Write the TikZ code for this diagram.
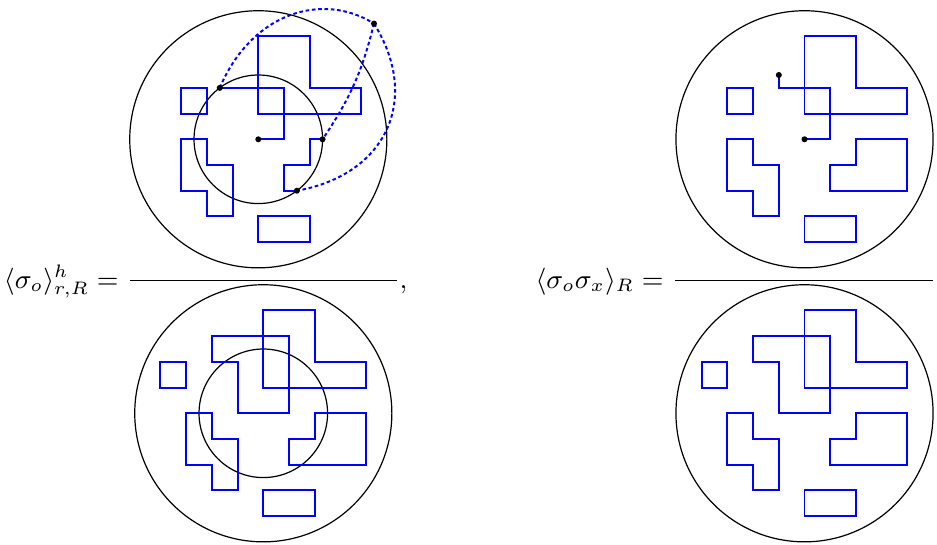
\documentclass[tikz,border=0pt]{standalone}
\begin{document}
\begin{tikzpicture}[x=0.332pt,y=-0.332pt,
  conf/.style={blue, line width=0.65pt, line join=miter},
  ring/.style={black, line width=0.4pt},
  site/.style={circle, fill=black, inner sep=0pt, minimum size=2pt},
  bridge/.style={blue, line width=0.65pt, dash pattern=on 1.2pt off 0.9pt},
  fracbar/.style={black, line width=0.4pt},
  lbl/.style={inner sep=0pt, outer sep=0pt, font=\fontsize{9}{11}\selectfont}]
\useasboundingbox (0,0) rectangle (937,545);

% ---------- top left: numerator with inner disc and bridges
\begin{scope}[shift={(258.3,139.3)}, x=0.3cm, y=0.3cm]
  \draw[ring] (0,0) circle (5);
  \draw[ring] (0,0) circle (2.5);
  \draw[conf] (-3,1) rectangle (-2,2);
  \draw[conf] (0,4) -- (2,4) -- (2,2) -- (4,2) -- (4,1) -- (0,1) -- cycle;
  \draw[conf] (-3,0) -- (-2,0) -- (-2,-1) -- (-1,-1) -- (-1,-3) -- (-2,-3) -- (-2,-2) -- (-3,-2) -- cycle;
  \draw[conf] (0,-3) rectangle (2,-4);
  \coordinate (o1) at (0,0);
  \coordinate (a1) at (-1.5,2);
  \coordinate (b1) at (2.5,0);
  \coordinate (c1) at (1.5,-2);
  \coordinate (q1) at (4.5,4.5);
  \draw[conf] (o1) -- (1,0) -- (1,2) -- (a1);
  \draw[conf] (b1) -- (2,0) -- (2,-1) -- (1,-1) -- (1,-2) -- (c1);
  \draw[bridge] (a1) .. controls (-0.25,4.94) and (2.5,5.75) .. (q1);
  \draw[bridge] (q1) to[bend left=10] (b1);
  \draw[bridge] (q1) .. controls (6.35,1.53) and (4.95,-1.39) .. (c1);
  \node[site] (o1dot) at (o1) {};
  \node[site] (a1dot) at (a1) {};
  \node[site] (b1dot) at (b1) {};
  \node[site] (c1dot) at (c1) {};
  \node[site] (q1dot) at (q1) {};
\end{scope}

% ---------- bottom left: denominator with inner circle
\begin{scope}[shift={(263.3,413.3)}, x=0.3cm, y=0.3cm]
  \draw[ring] (0,0) circle (5);
  \draw[ring] (0,0) circle (2.5);
  \draw[conf] (-4,1) rectangle (-3,2);
  \draw[conf] (0,4) -- (2,4) -- (2,2) -- (4,2) -- (4,1) -- (0,1) -- cycle;
  \draw[conf] (-2,3) -- (1,3) -- (1,0) -- (-1,0) -- (-1,2) -- (-2,2) -- cycle;
  \draw[conf] (-3,0) -- (-2,0) -- (-2,-1) -- (-1,-1) -- (-1,-3) -- (-2,-3) -- (-2,-2) -- (-3,-2) -- cycle;
  \draw[conf] (2,0) -- (4,0) -- (4,-2) -- (1,-2) -- (1,-1) -- (2,-1) -- cycle;
  \draw[conf] (0,-3) rectangle (2,-4);
\end{scope}

% ---------- top right: numerator of two-point function
\begin{scope}[shift={(804.5,139.3)}, x=0.3cm, y=0.3cm]
  \draw[ring] (0,0) circle (5);
  \draw[conf] (-3,1) rectangle (-2,2);
  \draw[conf] (0,4) -- (2,4) -- (2,2) -- (4,2) -- (4,1) -- (0,1) -- cycle;
  \draw[conf] (-3,0) -- (-2,0) -- (-2,-1) -- (-1,-1) -- (-1,-3) -- (-2,-3) -- (-2,-2) -- (-3,-2) -- cycle;
  \draw[conf] (2,0) -- (4,0) -- (4,-2) -- (1,-2) -- (1,-1) -- (2,-1) -- cycle;
  \draw[conf] (0,-3) rectangle (2,-4);
  \coordinate (o2) at (0,0);
  \coordinate (x2) at (-1,2.5);
  \draw[conf] (x2) -- (-1,2) -- (1,2) -- (1,0) -- (o2);
  \node[site] (o2dot) at (o2) {};
  \node[site] (x2dot) at (x2) {};
\end{scope}

% ---------- bottom right: denominator
\begin{scope}[shift={(804.5,413.3)}, x=0.3cm, y=0.3cm]
  \draw[ring] (0,0) circle (5);
  \draw[conf] (-4,1) rectangle (-3,2);
  \draw[conf] (0,4) -- (2,4) -- (2,2) -- (4,2) -- (4,1) -- (0,1) -- cycle;
  \draw[conf] (-2,3) -- (1,3) -- (1,0) -- (-1,0) -- (-1,2) -- (-2,2) -- cycle;
  \draw[conf] (-3,0) -- (-2,0) -- (-2,-1) -- (-1,-1) -- (-1,-3) -- (-2,-3) -- (-2,-2) -- (-3,-2) -- cycle;
  \draw[conf] (2,0) -- (4,0) -- (4,-2) -- (1,-2) -- (1,-1) -- (2,-1) -- cycle;
  \draw[conf] (0,-3) rectangle (2,-4);
\end{scope}

% ---------- fraction bars and labels
\coordinate (barLa) at (130,280.7);
\coordinate (barLb) at (396.7,280.7);
\coordinate (barRa) at (675,280.7);
\coordinate (barRb) at (933.3,280.7);
\draw[fracbar] (barLa) -- (barLb);
\draw[fracbar] (barRa) -- (barRb);
\node[lbl, anchor=base east] (lhsL) at (118.5,288.6) {$\langle\sigma_o\rangle^h_{r,R} =$};
\node[lbl, anchor=base west] (comma) at (399.5,288.6) {$,$};
\node[lbl, anchor=base east] (lhsR) at (663.5,288.6) {$\langle\sigma_o\sigma_x\rangle_R =$};
\end{tikzpicture}
\end{document}
